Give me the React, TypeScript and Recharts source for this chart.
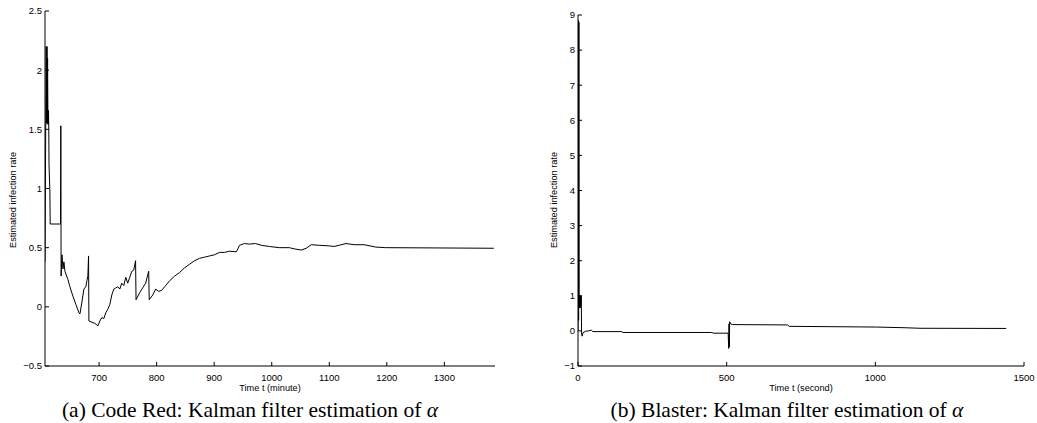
import React from "react";
import { LineChart, Line, XAxis, YAxis } from "recharts";

// Code Red: time (minute) and estimated infection rate
const codeRedT = [
  606, 608, 609, 609.5, 610, 610.5, 611, 611.5, 612, 612.5, 613, 614.5, 615,
  633, 633.5, 634, 635.5, 637.2, 638.9, 640.7, 645.9, 649.3, 654.5, 659.7,
  664.9, 666.7, 670.1, 673.6, 677, 678.8, 680.5, 681.7, 682.3, 687.5, 692.7,
  697.9, 701.3, 704.8, 708.2, 711.7, 715.2, 718.7, 722.1, 725.6, 729, 732.5,
  736, 739.4, 742.9, 746.4, 749.8, 753.3, 756.8, 760.2, 763.4, 764.2, 770.6,
  775.8, 781, 784.5, 786.2, 787.1, 793.2, 798.4, 803.6, 808.8, 814, 822.6,
  831.3, 840, 848.6, 857.3, 865.9, 874.6, 883.3, 892, 900.6, 909.3, 918,
  926.6, 938.7, 944, 952.6, 961.3, 971.7, 982, 996, 1013, 1030.6, 1039,
  1051.5, 1060, 1068.7, 1082.6, 1100, 1108.6, 1117, 1129, 1143, 1160.6,
  1180.8, 1198, 1386,
];
const codeRedRate = [
  0.38, 2.2, 1.55, 2.2, 1.55, 2.1, 1.67, 1.54, 1.66, 1.54, 1.2, 0.97, 0.7,
  0.7, 1.53, 0.26, 0.44, 0.32, 0.38, 0.3, 0.23, 0.17, 0.09, 0.02,
  -0.05, -0.06, 0.04, 0.15, 0.17, 0.22, 0.26, 0.43, -0.12, -0.13, -0.14,
  -0.16, -0.12, -0.09, -0.1, -0.05, -0.02, 0.02, 0.1, 0.15, 0.16, 0.17,
  0.15, 0.2, 0.18, 0.25, 0.2, 0.25, 0.3, 0.31, 0.39, 0.06, 0.12,
  0.16, 0.2, 0.27, 0.3, 0.06, 0.1, 0.15, 0.13, 0.14, 0.17, 0.22,
  0.26, 0.29, 0.33, 0.36, 0.39, 0.41, 0.42, 0.43, 0.44, 0.46, 0.46,
  0.47, 0.465, 0.52, 0.535, 0.53, 0.535, 0.52, 0.51, 0.5, 0.5, 0.49,
  0.48, 0.495, 0.525, 0.52, 0.515, 0.51, 0.52, 0.535, 0.525, 0.525,
  0.505, 0.5, 0.495,
];
const codeRedXTicks = [700, 800, 900, 1000, 1100, 1200, 1300];
const codeRedYTicks = [-0.5, 0, 0.5, 1, 1.5, 2, 2.5];

// Blaster: time (second) and estimated infection rate
const blasterT = [
  0, 1, 2, 3, 4, 6, 7, 8, 9, 11, 12, 14, 17, 25, 35, 45, 50, 148, 150, 450,
  455, 505, 507, 508, 509, 510, 515, 520, 705, 710, 1000, 1100, 1150, 1440,
];
const blasterRate = [
  0, 8.85, 0.3, 8.8, 0.65, 1.0, 0.65, 1.0, 0.7, 1.0, -0.1, -0.15, -0.05,
  -0.01, 0, 0.02, -0.02, -0.02, -0.045, -0.045, -0.065, -0.065, -0.5, 0.2,
  -0.45, 0.26, 0.19, 0.18, 0.17, 0.13, 0.11, 0.09, 0.075, 0.07,
];
const blasterXTicks = [0, 500, 1000, 1500];
const blasterYTicks = [-1, 0, 1, 2, 3, 4, 5, 6, 7, 8, 9];

const codeRedData = codeRedT.map((t, i) => ({ t, v: codeRedRate[i] }));
const blasterData = blasterT.map((t, i) => ({ t, v: blasterRate[i] }));

const sans = "'Liberation Sans', Arial, Helvetica, sans-serif";
const serif = "'Liberation Serif', 'Times New Roman', serif";
const tickStyle = { fontSize: 9.5, fill: "#000", fontFamily: sans };
const fmt = (v: number) => String(v).replace("-", "\u2212");

const App: React.FC = () => {
  return (
    <div style={{ position: "absolute", left: 0, top: 0, width: 1037, height: 423, background: "#fff" }}>
      <div style={{ position: "absolute", left: 0, top: 0 }}>
        <LineChart width={500} height={423} data={codeRedData} margin={{ top: 11, right: 5, left: 5, bottom: 32 }}>
          <XAxis
            dataKey="t"
            type="number"
            domain={[606, 1388]}
            ticks={codeRedXTicks}
            height={25}
            tickSize={-4}
            tickMargin={12}
            tick={tickStyle}
            stroke="#000"
            allowDataOverflow
          />
          <YAxis
            type="number"
            domain={[-0.5, 2.5]}
            ticks={codeRedYTicks}
            width={40}
            tickSize={-4}
            tickMargin={7}
            tick={tickStyle}
            tickFormatter={fmt}
            stroke="#000"
            allowDataOverflow
          />
          <Line type="linear" dataKey="v" stroke="#000" strokeWidth={1} dot={false} isAnimationActive={false} />
        </LineChart>
      </div>
      <div style={{ position: "absolute", left: 500, top: 0 }}>
        <LineChart width={537} height={423} data={blasterData} margin={{ top: 15, right: 13, left: 38, bottom: 32 }}>
          <XAxis
            dataKey="t"
            type="number"
            domain={[0, 1500]}
            ticks={blasterXTicks}
            height={25}
            tickSize={-4}
            tickMargin={12}
            tick={tickStyle}
            stroke="#000"
            allowDataOverflow
          />
          <YAxis
            type="number"
            domain={[-1, 9]}
            ticks={blasterYTicks}
            width={40}
            tickSize={-4}
            tickMargin={7}
            tick={tickStyle}
            tickFormatter={fmt}
            stroke="#000"
            allowDataOverflow
          />
          <Line type="linear" dataKey="v" stroke="#000" strokeWidth={1} dot={false} isAnimationActive={false} />
        </LineChart>
      </div>
      {/* axis titles and captions */}
      <svg width={1037} height={423} style={{ position: "absolute", left: 0, top: 0, pointerEvents: "none" }}>
        <g fontFamily={sans} fontSize={9.2} fill="#000">
          <text x={15.5} y={200} textAnchor="middle" transform="rotate(-90 15.5 200)">Estimated infection rate</text>
          <text x={556.5} y={200} textAnchor="middle" transform="rotate(-90 556.5 200)">Estimated infection rate</text>
          <text x={270} y={391} textAnchor="middle">Time t (minute)</text>
          <text x={801} y={391} textAnchor="middle">Time t (second)</text>
        </g>
        <g fontFamily={serif} fontSize={21.5} fill="#000">
          <text x={250} y={417} textAnchor="middle">
            (a) Code Red: Kalman filter estimation of <tspan fontStyle="italic">α</tspan>
          </text>
          <text x={787} y={417} textAnchor="middle">
            (b) Blaster: Kalman filter estimation of <tspan fontStyle="italic">α</tspan>
          </text>
        </g>
      </svg>
    </div>
  );
};

export default App;
